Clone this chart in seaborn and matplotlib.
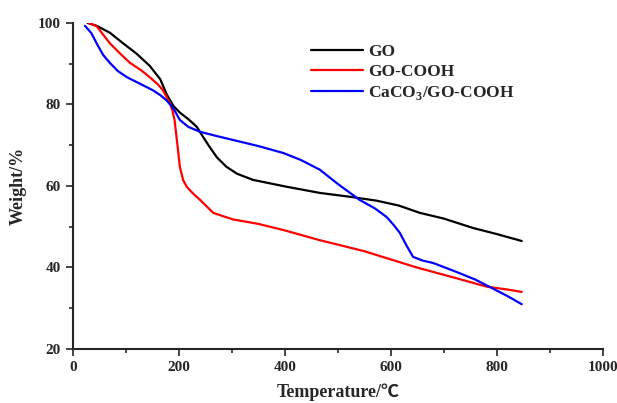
import numpy as np
import pandas as pd
import matplotlib.pyplot as plt
import seaborn as sns

# valores (temperatura em C, massa em %)
temp_go = [28, 45, 70, 94, 120, 145, 165, 177, 190, 202, 218, 234, 246, 258, 272, 290, 310, 340, 400, 466, 520, 573, 615, 655, 700, 755, 800, 847]
peso_go = [100, 99.3, 97.6, 95.1, 92.5, 89.5, 86.2, 82.5, 79.6, 78.0, 76.4, 74.5, 72.0, 69.6, 67.0, 64.7, 63.0, 61.5, 59.9, 58.3, 57.4, 56.4, 55.2, 53.4, 52.0, 49.7, 48.2, 46.5]

temp_cooh = [30, 45, 70, 90, 108, 130, 145, 160, 170, 183, 188, 192, 197, 202, 208, 215, 228, 240, 265, 302, 350, 397, 466, 550, 649, 720, 781, 820, 847]
peso_cooh = [100, 99.2, 95.0, 92.4, 90.2, 88.3, 86.7, 85.0, 83.5, 80.4, 78.5, 76.2, 70.5, 64.7, 61.5, 59.8, 58.0, 56.6, 53.4, 51.8, 50.7, 49.2, 46.7, 44.0, 40.0, 37.5, 35.3, 34.6, 34.0]

temp_caco3 = [23, 35, 45, 57, 70, 85, 102, 125, 151, 165, 177, 190, 202, 218, 240, 270, 302, 350, 397, 430, 466, 500, 541, 570, 592, 605, 617, 630, 642, 660, 680, 724, 760, 787, 820, 847]
peso_caco3 = [99.3, 97.5, 95.0, 92.2, 90.2, 88.2, 86.7, 85.2, 83.5, 82.3, 81.0, 79.0, 76.2, 74.5, 73.3, 72.3, 71.3, 69.8, 68.1, 66.4, 64.0, 60.5, 56.6, 54.5, 52.4, 50.5, 48.5, 45.3, 42.6, 41.7, 41.1, 38.9, 37.0, 35.2, 33.0, 31.0]

amostras = ['GO', 'GO-COOH', 'CaCO$_3$/GO-COOH']
cores = ['black', 'red', 'blue']

df = pd.concat([
    pd.DataFrame({'T': temp_go, 'W': peso_go, 'amostra': amostras[0]}),
    pd.DataFrame({'T': temp_cooh, 'W': peso_cooh, 'amostra': amostras[1]}),
    pd.DataFrame({'T': temp_caco3, 'W': peso_caco3, 'amostra': amostras[2]}),
])

sns.set_style('ticks')
plt.rcParams['font.family'] = ['Liberation Serif', 'Noto Sans CJK SC', 'DejaVu Sans']
plt.rcParams['font.weight'] = 'bold'
plt.rcParams['mathtext.fontset'] = 'custom'
plt.rcParams['mathtext.rm'] = 'Liberation Serif:bold'

fig = plt.figure(figsize=(6.17, 4.03), dpi=100)
ax = fig.add_axes([0.118, 0.134, 0.859, 0.809])

sns.lineplot(data=df, x='T', y='W', hue='amostra', palette=cores, sort=False,
             estimator=None, linewidth=1.6, ax=ax)

ax.set_xlim(0, 1000)
ax.set_ylim(20, 100)
ax.set_xticks([0, 200, 400, 600, 800, 1000])
ax.set_xticks([100, 300, 500, 700, 900], minor=True)
ax.set_yticks([20, 40, 60, 80, 100])
ax.set_yticks([30, 50, 70, 90], minor=True)
ax.tick_params(axis='both', which='major', length=5, width=1.2, labelsize=11, direction='out')
ax.tick_params(axis='both', which='minor', length=3, width=1.2, direction='out')
for lbl in ax.get_xticklabels() + ax.get_yticklabels():
    lbl.set_fontweight('bold')

for s in ['top', 'right']:
    ax.spines[s].set_visible(False)
for s in ['left', 'bottom']:
    ax.spines[s].set_linewidth(1.5)

ax.set_xlabel('Temperature/℃', fontsize=13, fontweight='bold', labelpad=7)
ax.set_ylabel('Weight/%', fontsize=13, fontweight='bold', labelpad=8)

leg = ax.legend(loc='upper left', bbox_to_anchor=(0.42, 0.985), frameon=False,
                fontsize=12.5, handlelength=3.0, handletextpad=0.3, labelspacing=0.25)
for t in leg.get_texts():
    t.set_fontweight('bold')

fig.savefig('out.png', dpi=100)
